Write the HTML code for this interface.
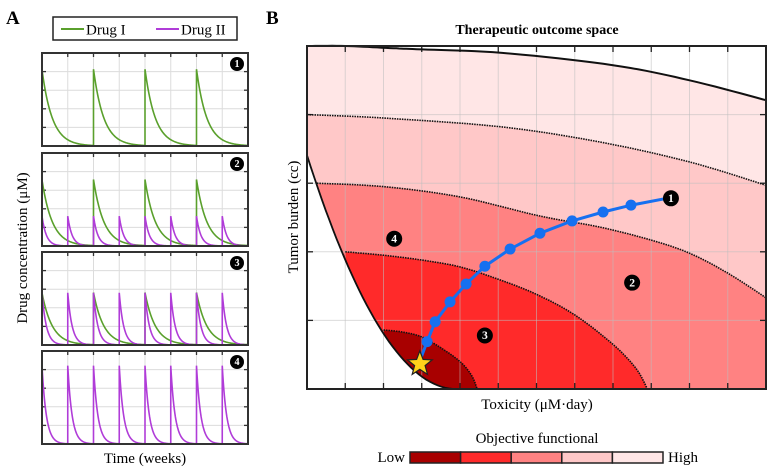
<!DOCTYPE html>
<html><head><meta charset="utf-8"><style>
body{margin:0;background:#fff}
svg{display:block;font-family:"Liberation Serif",serif}
</style></head><body>
<svg id="fig" width="768" height="468" viewBox="0 0 768 468" xmlns="http://www.w3.org/2000/svg">
<text x="6" y="24" font-size="19" font-weight="bold">A</text>
<text x="266" y="24" font-size="19" font-weight="bold">B</text>
<g>
<rect x="53" y="17" width="184" height="23" fill="#fff" stroke="#222" stroke-width="1.5"/>
<line x1="61" y1="29" x2="84" y2="29" stroke="#5aa02c" stroke-width="2"/>
<text x="86" y="34.5" font-size="15">Drug I</text>
<line x1="156" y1="29" x2="179" y2="29" stroke="#b03cd8" stroke-width="2"/>
<text x="181" y="34.5" font-size="15">Drug II</text>
</g>
<text transform="translate(27,248) rotate(-90)" text-anchor="middle" font-size="15">Drug concentration (μM)</text>
<text x="145" y="463" text-anchor="middle" font-size="15">Time (weeks)</text>
<g id="panelA"></g>
<text x="537" y="34" text-anchor="middle" font-size="14" font-weight="bold">Therapeutic outcome space</text>
<text transform="translate(298,217) rotate(-90)" text-anchor="middle" font-size="15">Tumor burden (cc)</text>
<text x="537" y="409" text-anchor="middle" font-size="15">Toxicity (μM·day)</text>
<g id="panelB"></g>
<g>
<text x="537" y="443" text-anchor="middle" font-size="15">Objective functional</text>
<text x="405" y="462" text-anchor="end" font-size="15">Low</text>
<text x="668" y="462" font-size="15">High</text>
<g id="cbar"></g>
</g>
</svg>
<script>
// ---- Panel A data ----
const aPanels = [1,2,3,4];
const drugIDoses = [[0,2,4,6],[0,2,4,6],[0,2,4,6],[]];
const drugIPeak = [0.82,0.71,0.56,0];
const drugIIDoses = [[],[0,1,2,3,4,5,6,7],[0,1,2,3,4,5,6,7],[0,1,2,3,4,5,6,7]];
const drugIIPeak = [0,0.32,0.56,0.84];
const aTops = [53,153,252,351];
// ---- Panel B data ----
const topCurve = [[0,5],[1,5],[2.17,4.97],[3,4.95],[5.1,4.9],[8,4.72],[10,4.5],[12,4.21]];
const contour1 = [[0,4.0],[2,3.95],[5.1,3.82],[7.66,3.6],[10,3.31],[12,2.97]];
const contour2 = [[0.26,3.0],[2,2.95],[4,2.8],[6.1,2.52],[7.66,2.36],[9,2.17],[10,1.98],[11,1.69],[12,1.33]];
const contour3 = [[1,2.0],[2,1.95],[3,1.88],[4,1.78],[5,1.6],[6,1.38],[7,1.08],[8,0.65],[8.6,0.3],[8.9,0]];
const contour4 = [[2,0.86],[2.5,0.83],[3,0.76],[3.5,0.6],[4,0.4],[4.3,0.2],[4.45,0]];
const leftCurveA = 0.224, leftCurveX0 = 3.9;
const pathX = [2.95,3.14,3.35,3.74,4.16,4.65,5.31,6.09,6.93,7.74,8.47,9.41];
const pathY = [0.41,0.69,0.98,1.27,1.53,1.79,2.04,2.27,2.45,2.58,2.68,2.78];
const regionLabels = [["1",9.41,2.78],["2",8.5,1.55],["3",4.65,0.78],["4",2.28,2.19]];
const cbarColors = ["#a80000","#ff2a2a","#ff8282","#ffc8c8","#ffe6e6"];

const NS="http://www.w3.org/2000/svg";
function mk(tag,attrs,parent){const e=document.createElementNS(NS,tag);for(const k in attrs)e.setAttribute(k,attrs[k]);parent.appendChild(e);return e;}
function badge(cx,cy,txt,parent,r){
  const g=mk('g',{},parent);
  
  
  mk('circle',{cx:cx,cy:cy,r:r,fill:'#000'},g);
  const t=mk('text',{x:cx,y:cy+r*0.45,'text-anchor':'middle','font-size':r*1.45,'font-weight':'bold',fill:'#fff'},g);
  t.textContent=txt;
}
// Panel A
const A=document.getElementById('panelA');
const aL=42,aR=248,aH=93;
aPanels.forEach((p,i)=>{
  const top=aTops[i],bot=top+aH;
  const xA=t=>aL+t/8*(aR-aL), yA=v=>bot-v*aH;
  const g=mk('g',{},A);
  
  
  for(let k=1;k<8;k++){mk('line',{x1:xA(k),x2:xA(k),y1:top,y2:bot,stroke:'#dcdcdc','stroke-width':1},g);
    mk('line',{x1:xA(k),x2:xA(k),y1:top,y2:top+4,stroke:'#333','stroke-width':1.3},g);}
  for(let k=1;k<5;k++){const y=yA(k/5);mk('line',{x1:aL,x2:aR,y1:y,y2:y,stroke:'#dcdcdc','stroke-width':1},g);
    mk('line',{x1:aL,x2:aL+4,y1:y,y2:y,stroke:'#333','stroke-width':1.3},g);
    mk('line',{x1:aR-4,x2:aR,y1:y,y2:y,stroke:'#333','stroke-width':1.3},g);}
  function curve(doses,peak,tau,color,name){
    if(!doses.length)return;
    let d='';
    for(let s=0;s<=400;s++){const t=s/400*8;let v=0;
      doses.forEach(t0=>{if(t>=t0)v+=peak*Math.exp(-(t-t0)/tau);});
      const x=xA(t).toFixed(2),y=yA(v).toFixed(2);
      if(s>0&&doses.some(t0=>Math.abs(t-t0)<1e-9)){
        let vb=0;doses.forEach(t0=>{if(t>t0)vb+=peak*Math.exp(-(t-t0)/tau);});
        d+='L'+x+','+yA(vb).toFixed(2);}
      d+=(s?'L':'M')+x+','+y;}
    const pth=mk('path',{d:d,fill:'none',stroke:color,'stroke-width':1.6},g);
    
    
  }
  curve(drugIDoses[i],drugIPeak[i],0.4,'#5aa02c','drug-i-line');
  curve(drugIIDoses[i],drugIIPeak[i],0.17,'#b03cd8','drug-ii-line');
  mk('rect',{x:aL,y:top,width:aR-aL,height:aH,fill:'none',stroke:'#333','stroke-width':2},g);
  badge(aR-11,top+11,String(p),g,7);
});
// Panel B
const B=document.getElementById('panelB');
const bL=307,bR=766,bT=46,bB=389;
const xB=v=>bL+v/12*(bR-bL), yB=v=>bB-v/5*(bB-bT);
// Catmull-Rom smoothing to pixel points
function smooth(arr){
  const P=arr.map(p=>[xB(p[0]),yB(p[1])]);const out=[];
  for(let i=0;i<P.length-1;i++){
    const p0=P[Math.max(0,i-1)],p1=P[i],p2=P[i+1],p3=P[Math.min(P.length-1,i+2)];
    for(let s=0;s<10;s++){const t=s/10,t2=t*t,t3=t2*t;
      const f=(a,b,c,d)=>0.5*(2*b+(-a+c)*t+(2*a-5*b+4*c-d)*t2+(-a+3*b-3*c+d)*t3);
      out.push([f(p0[0],p1[0],p2[0],p3[0]),f(p0[1],p1[1],p2[1],p3[1])]);}
  }
  out.push(P[P.length-1]);return out;
}
const pxs=a=>a.map(p=>p[0].toFixed(1)+','+p[1].toFixed(1)).join(' ');
const raw=a=>a.map(p=>[xB(p[0]),yB(p[1])]);
function region(arr,extra,color,name){
  const pg=mk('polygon',{points:pxs(smooth(arr).concat(raw(extra))),fill:color},B);
  
  
}
region(topCurve,[[12,0],[0,0]],'#ffe6e6','region-level-5');
region(contour1,[[12,0],[0,0]],'#ffc8c8','region-level-4');
region(contour2,[[12,0],[0,0]],'#ff8282','region-level-3');
region(contour3,[[0,0]],'#ff2a2a','region-level-2');
region(contour4,[[0,0]],'#a80000','region-level-1');
const left=[];for(let s=0;s<=40;s++){const x=s/40*leftCurveX0;left.push([x,leftCurveA*(x-leftCurveX0)**2]);}
const wp=mk('polygon',{points:pxs(raw([[0,5]].concat(left,[[0,0]]))),fill:'#fff'},B);


const grid=mk('g',{},B);


for(let k=1;k<12;k++){mk('line',{x1:xB(k),x2:xB(k),y1:bT,y2:bB,stroke:'rgba(190,190,190,0.55)','stroke-width':1},grid);
  mk('line',{x1:xB(k),x2:xB(k),y1:bB,y2:bB-6,stroke:'#222','stroke-width':1.3},grid);
  mk('line',{x1:xB(k),x2:xB(k),y1:bT,y2:bT+6,stroke:'#222','stroke-width':1.3},grid);}
for(let k=1;k<5;k++){mk('line',{x1:bL,x2:bR,y1:yB(k),y2:yB(k),stroke:'rgba(190,190,190,0.55)','stroke-width':1},grid);
  mk('line',{x1:bL,x2:bL+6,y1:yB(k),y2:yB(k),stroke:'#222','stroke-width':1.3},grid);
  mk('line',{x1:bR-6,x2:bR,y1:yB(k),y2:yB(k),stroke:'#222','stroke-width':1.3},grid);}
function pl(points,dash,name,w){const e=mk('polyline',{points:pxs(points),fill:'none',stroke:'#111','stroke-width':w,'stroke-dasharray':dash},B);
  
  }
pl(smooth(topCurve),'none','boundary-top',2);
pl(raw(left),'none','boundary-left',1.8);
pl(smooth(contour1),'1.5,1','contour-1',1.6);
pl(smooth(contour2),'1.5,1','contour-2',1.6);
pl(smooth(contour3),'1.5,1','contour-3',1.6);
pl(smooth(contour4),'1.5,1','contour-4',1.6);
const traj=mk('polyline',{points:pathX.map((x,i)=>xB(x).toFixed(1)+','+yB(pathY[i]).toFixed(1)).join(' '),fill:'none',stroke:'#1670f0','stroke-width':3},B);


pathX.forEach((x,i)=>{if(i===0||i===pathX.length-1)return;
  const c=mk('circle',{cx:xB(x),cy:yB(pathY[i]),r:5.5,fill:'#1670f0'},B);
  
  });
(function(){const cx=xB(pathX[0]),cy=yB(pathY[0])+3;let p=[];
  for(let k=0;k<10;k++){const r=k%2?5.5:13,a=-Math.PI/2+k*Math.PI/5;p.push((cx+r*Math.cos(a)).toFixed(1)+','+(cy+r*Math.sin(a)).toFixed(1));}
  const s=mk('polygon',{points:p.join(' '),fill:'#ffd21a',stroke:'#222','stroke-width':1.2},B);
  
  })();
regionLabels.forEach(l=>badge(xB(l[1])+(l[0]==='1'?4:0),yB(l[2]),l[0],B,8));
mk('rect',{x:bL,y:bT,width:bR-bL,height:bB-bT,fill:'none',stroke:'#222','stroke-width':2},B);
const C=document.getElementById('cbar');const cx0=410,cw=(663-410)/cbarColors.length;
cbarColors.forEach((c,i)=>{const r=mk('rect',{x:cx0+i*cw,y:452,width:cw,height:11,fill:c,stroke:'#222','stroke-width':1.5},C);
  
  });
</script>
</body></html>
